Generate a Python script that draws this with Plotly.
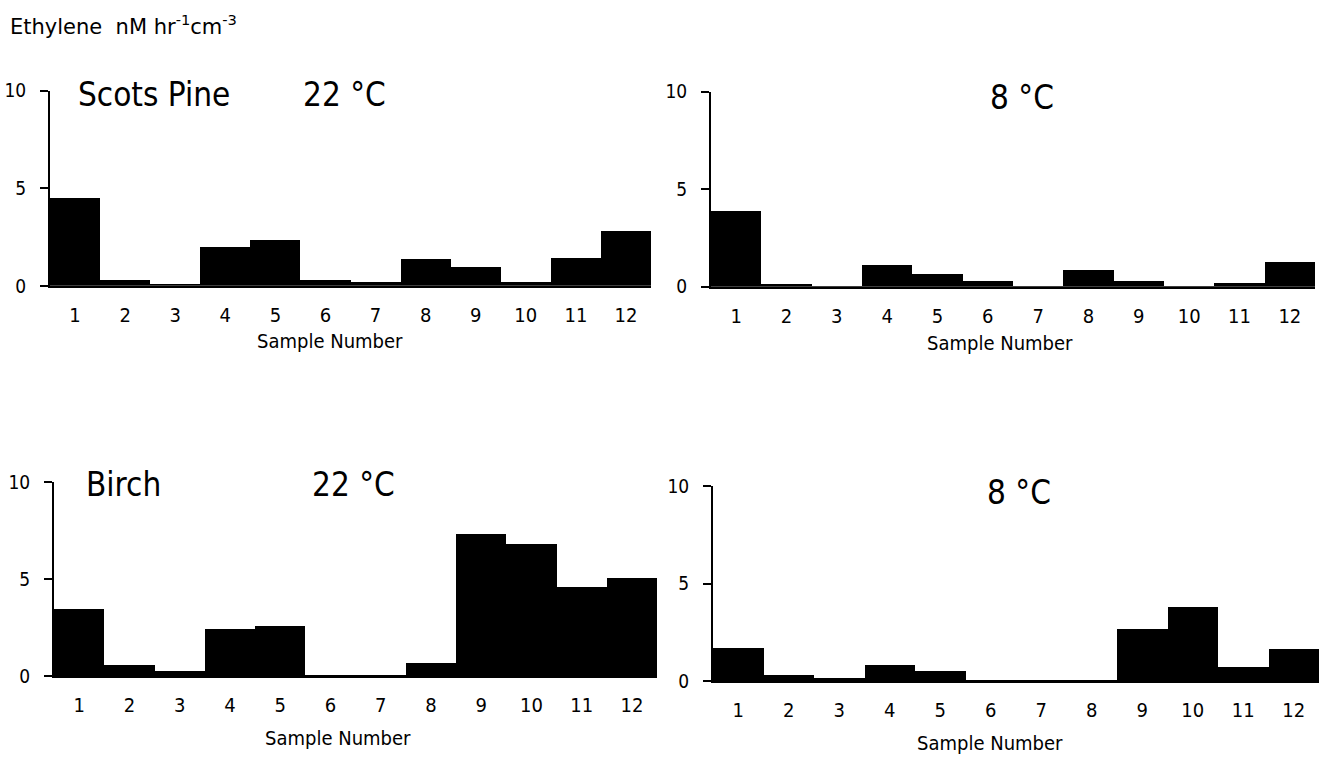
import plotly.graph_objects as go

samples = list(range(1, 13))
tick_labels = [str(s) for s in samples]

pine_22 = [4.5, 0.3, 0.1, 2.0, 2.35, 0.3, 0.2, 1.4, 1.0, 0.2, 1.45, 2.85]
pine_8 = [3.9, 0.15, 0.05, 1.15, 0.7, 0.3, 0.05, 0.87, 0.33, 0.05, 0.23, 1.27]
birch_22 = [3.45, 0.58, 0.28, 2.45, 2.58, 0.05, 0.07, 0.7, 7.3, 6.8, 4.58, 5.07]
birch_8 = [1.7, 0.3, 0.15, 0.83, 0.5, 0.03, 0.05, 0.07, 2.65, 3.81, 0.71, 1.63]

series = [pine_22, pine_8, birch_22, birch_8]

W, H = 1328, 764
FONT = "DejaVu Sans Condensed, DejaVu Sans, Liberation Sans, sans-serif"
FONT_WIDE = "DejaVu Sans, Liberation Sans, sans-serif"

# panel boxes in pixels: (left, right, y_at_0, y_at_10)
boxes = [
    (50, 651, 283, 82),
    (711, 1315, 284, 83),
    (54, 657, 685, 485),
    (713, 1319, 690, 489),
]

fig = go.Figure()
layout = dict(
    width=W, height=H,
    margin=dict(l=0, r=0, t=0, b=0),
    paper_bgcolor="white", plot_bgcolor="white",
    showlegend=False, bargap=0,
    font=dict(family=FONT, color="black"),
)

for i, (vals, (l, r, y0, y10)) in enumerate(zip(series, boxes)):
    n = "" if i == 0 else str(i + 1)
    fig.add_trace(go.Bar(
        x=samples, y=vals, xaxis="x" + n, yaxis="y" + n,
        marker=dict(color="black", line=dict(width=0)),
    ))
    layout["xaxis" + n] = dict(
        domain=[l / W, r / W], anchor="y" + n,
        range=[0.5, 12.5], tickvals=samples, ticktext=tick_labels,
        showline=True, linecolor="black", linewidth=2,
        showgrid=False, zeroline=False, ticks="",
        ticklabelstandoff=10,
        tickfont=dict(size=20, family=FONT, color="black"),
        fixedrange=True,
    )
    layout["yaxis" + n] = dict(
        domain=[1 - y0 / H, 1 - y10 / H], anchor="x" + n,
        range=[0, 10], tickvals=[0, 5, 10],
        showline=True, linecolor="black", linewidth=2,
        ticks="outside", ticklen=8, tickwidth=2, tickcolor="black",
        showgrid=False, zeroline=False,
        ticklabelstandoff=10,
        tickfont=dict(size=19, family=FONT, color="black"),
        fixedrange=True,
    )

def ann(text, px, py, size, xanchor="center", family=FONT):
    return dict(text=text, x=px / W, y=1 - py / H, xref="paper", yref="paper",
                xanchor=xanchor, yanchor="middle", showarrow=False,
                font=dict(size=size, family=family, color="black"))

annotations = [
    ann("Ethylene\u00a0\u00a0nM hr<sup>-1</sup>cm<sup>-3</sup>", 8, 14, 21, "left", FONT_WIDE),
    ann("Scots Pine", 76, 86, 33, "left"),
    ann("22 °C", 301, 86, 33, "left"),
    ann("8 °C", 988, 89, 33, "left"),
    ann("Birch", 84, 488, 33, "left"),
    ann("22 °C", 310, 488, 33, "left"),
    ann("8 °C", 985, 496, 33, "left"),
    ann("Sample Number", 330, 340, 20),
    ann("Sample Number", 1000, 342, 20),
    ann("Sample Number", 338, 749, 20),
    ann("Sample Number", 990, 754, 20),
]
layout["annotations"] = annotations
fig.update_layout(**layout)
fig.write_html("out.html")
